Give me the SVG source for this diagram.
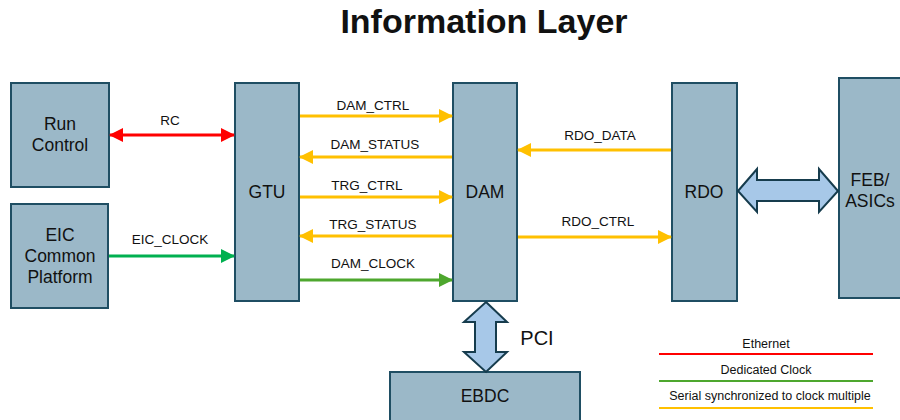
<svg xmlns="http://www.w3.org/2000/svg" width="900" height="420" viewBox="0 0 900 420">
<style>
.box{fill:#9bb8c8;stroke:#1f4e63;stroke-width:2}
.t{font-family:"Liberation Sans",Arial,sans-serif;fill:#111;text-anchor:middle}
.nt{font-size:17.5px}
.lbl{font-size:13.5px}
.lg{font-size:12.5px}
.y{stroke:#ffc000;stroke-width:3;fill:none}
.g{stroke:#4ea72e;stroke-width:3;fill:none}
.gg{stroke:#00b050;stroke-width:3;fill:none}
.r{stroke:#ff0000;stroke-width:3;fill:none}
.blk{fill:#a7c8e8;stroke:#163c4d;stroke-width:2;stroke-linejoin:miter}
</style>
<defs>
<marker id="ay" markerUnits="userSpaceOnUse" markerWidth="14" markerHeight="14" refX="13" refY="7" orient="auto-start-reverse"><path d="M0,0 L14,7 L0,14 z" fill="#ffc000"/></marker>
<marker id="ag" markerUnits="userSpaceOnUse" markerWidth="14" markerHeight="14" refX="13" refY="7" orient="auto-start-reverse"><path d="M0,0 L14,7 L0,14 z" fill="#4ea72e"/></marker>
<marker id="agg" markerUnits="userSpaceOnUse" markerWidth="14" markerHeight="14" refX="13" refY="7" orient="auto-start-reverse"><path d="M0,0 L14,7 L0,14 z" fill="#00b050"/></marker>
<marker id="ar" markerUnits="userSpaceOnUse" markerWidth="14" markerHeight="14" refX="13" refY="7" orient="auto-start-reverse"><path d="M0,0 L14,7 L0,14 z" fill="#ff0000"/></marker>
</defs>
<rect width="900" height="420" fill="#ffffff"/>
<text class="t" x="484" y="33" style="font-size:34px;font-weight:bold">Information Layer</text>

<g id="run-control"><rect class="box" x="11" y="83" width="98" height="104"/><text class="t nt" x="60" y="130">Run</text><text class="t nt" x="60" y="151">Control</text></g>
<g id="eic"><rect class="box" x="11" y="204" width="97" height="104"/><text class="t nt" x="60" y="241">EIC</text><text class="t nt" x="60" y="262">Common</text><text class="t nt" x="60" y="283">Platform</text></g>
<g id="gtu"><rect class="box" x="235" y="83" width="64" height="218"/><text class="t nt" x="267" y="198">GTU</text></g>
<g id="dam"><rect class="box" x="453" y="83" width="64" height="218"/><text class="t nt" x="485" y="198">DAM</text></g>
<g id="rdo"><rect class="box" x="672" y="83" width="65" height="218"/><text class="t nt" x="704" y="198">RDO</text></g>
<g id="feb"><rect class="box" x="839" y="78" width="70" height="220"/><text class="t nt" x="870" y="186">FEB/</text><text class="t nt" x="870" y="207">ASICs</text></g>
<g id="ebdc"><rect class="box" x="390" y="372" width="190" height="60"/><text class="t nt" x="485" y="402">EBDC</text></g>

<g id="connectors">
<line class="r" x1="110" y1="135" x2="234" y2="135" marker-start="url(#ar)" marker-end="url(#ar)"/>
<text class="t lbl" x="170" y="125">RC</text>
<line class="gg" x1="109" y1="256" x2="234" y2="256" marker-end="url(#agg)"/>
<text class="t lbl" x="170" y="244">EIC_CLOCK</text>

<line class="y" x1="300" y1="116" x2="452" y2="116" marker-end="url(#ay)"/>
<text class="t lbl" x="373" y="110">DAM_CTRL</text>
<line class="y" x1="452" y1="157" x2="300" y2="157" marker-end="url(#ay)"/>
<text class="t lbl" x="375" y="149">DAM_STATUS</text>
<line class="y" x1="300" y1="197" x2="452" y2="197" marker-end="url(#ay)"/>
<text class="t lbl" x="367" y="190">TRG_CTRL</text>
<line class="y" x1="452" y1="236" x2="300" y2="236" marker-end="url(#ay)"/>
<text class="t lbl" x="373" y="229">TRG_STATUS</text>
<line class="g" x1="300" y1="280" x2="452" y2="280" marker-end="url(#ag)"/>
<text class="t lbl" x="373" y="268">DAM_CLOCK</text>

<line class="y" x1="671" y1="150" x2="518" y2="150" marker-end="url(#ay)"/>
<text class="t lbl" x="600" y="140">RDO_DATA</text>
<line class="y" x1="518" y1="237" x2="671" y2="237" marker-end="url(#ay)"/>
<text class="t lbl" x="598" y="226">RDO_CTRL</text>

<path class="blk" d="M738,191 L757,169 L757,180 L819,180 L819,169 L838,191 L819,212 L819,201 L757,201 L757,212 Z"/>
<path class="blk" d="M486,302 L507,322 L496,322 L496,352 L507,352 L486,372 L464,352 L475,352 L475,322 L464,322 Z"/>
<text class="t" x="537" y="345" style="font-size:20px">PCI</text>
</g>

<g id="legend">
<text class="t lg" x="766" y="348">Ethernet</text>
<line x1="659" y1="354" x2="873" y2="354" stroke="#ff0000" stroke-width="2"/>
<text class="t lg" x="766" y="374">Dedicated Clock</text>
<line x1="659" y1="381" x2="873" y2="381" stroke="#4ea72e" stroke-width="2"/>
<text class="t lg" x="770" y="400">Serial synchronized to clock multiple</text>
<line x1="659" y1="408" x2="873" y2="408" stroke="#ffc000" stroke-width="2"/>
</g>
</svg>
